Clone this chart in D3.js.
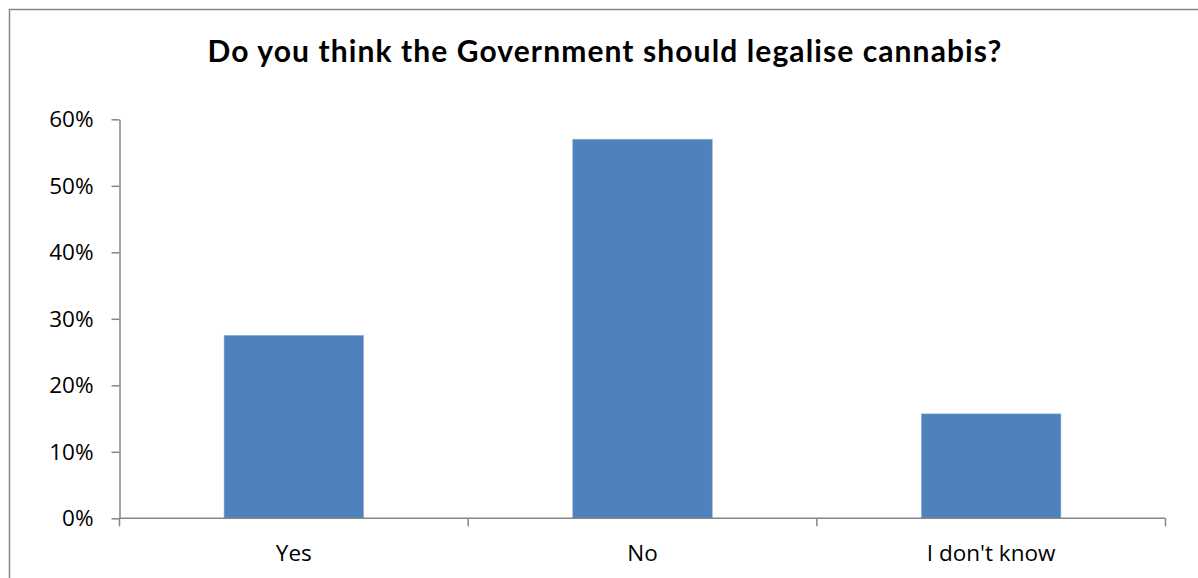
<!DOCTYPE html>
<html>
<head>
<meta charset="utf-8">
<script src="https://cdn.jsdelivr.net/npm/d3@7"></script>
<style>
  html, body { margin: 0; padding: 0; background: #fff; }
  svg { display: block; }
</style>
</head>
<body>
<svg id="chart" width="1198" height="578"></svg>
<script>
// Survey answers and their shares (percent)
const categories = ["Yes", "No", "I don't know"];
const shares = [27.5, 57.0, 15.7];
const yTicks = [0, 10, 20, 30, 40, 50, 60];
const title = "Do you think the Government should legalise cannabis?";

const svg = d3.select("#chart");
const W = 1198, H = 578;

// Outer chart frame (runs off the right and bottom edges)
svg.append("rect")
  .attr("x", 9.5).attr("y", 9.5)
  .attr("width", W + 10).attr("height", H + 10)
  .attr("fill", "#fff")
  .attr("stroke", "#878787")
  .attr("stroke-width", 1.5);

const plot = { left: 119.5, right: 1165.5, top: 119.3, bottom: 518.3 };

const x = d3.scaleBand()
  .domain(categories)
  .range([plot.left, plot.right])
  .paddingInner(0.6)
  .paddingOuter(0.3);

const y = d3.scaleLinear()
  .domain([0, 60])
  .range([plot.bottom, plot.top]);

// Bars
svg.append("g").selectAll("rect")
  .data(categories)
  .join("rect")
  .attr("x", d => x(d))
  .attr("width", x.bandwidth())
  .attr("y", (d, i) => y(shares[i]))
  .attr("height", (d, i) => y(0) - y(shares[i]))
  .attr("fill", "#4F81BD")
  .attr("stroke", "#8AABD6")
  .attr("stroke-width", 0.6);

const axisColor = "#868686";
const labelFont = "'Open Sans', 'DejaVu Sans', sans-serif";
const labelSize = "22.5px";

// Y axis
const yAxis = svg.append("g")
  .attr("transform", `translate(${plot.left},0)`)
  .call(d3.axisLeft(y).tickValues(yTicks).tickFormat(d => d + "%").tickSize(8).tickSizeOuter(0).tickPadding(18));
yAxis.attr("font-family", null).attr("font-size", null);
yAxis.select(".domain").attr("stroke", axisColor).attr("stroke-width", 1.5);
yAxis.selectAll(".tick line").attr("stroke", axisColor).attr("stroke-width", 1.5);
yAxis.selectAll(".tick text")
  .attr("fill", "#000")
  .style("font-family", labelFont)
  .style("font-size", labelSize);

// X axis: ticks sit on the category boundaries
const boundaries = d3.range(categories.length + 1).map(i => plot.left + i * x.step());
const xg = svg.append("g");
xg.append("line")
  .attr("x1", plot.left).attr("x2", plot.right)
  .attr("y1", plot.bottom).attr("y2", plot.bottom)
  .attr("stroke", axisColor).attr("stroke-width", 1.5);
xg.selectAll("line.tick")
  .data(boundaries)
  .join("line")
  .attr("class", "tick")
  .attr("x1", d => d).attr("x2", d => d)
  .attr("y1", plot.bottom).attr("y2", plot.bottom + 8)
  .attr("stroke", axisColor).attr("stroke-width", 1.5);
xg.selectAll("text")
  .data(categories)
  .join("text")
  .attr("x", d => x(d) + x.bandwidth() / 2)
  .attr("y", 561)
  .attr("text-anchor", "middle")
  .attr("fill", "#000")
  .style("font-family", labelFont)
  .style("font-size", labelSize)
  .text(d => d);

// Title
svg.append("text")
  .attr("x", 605)
  .attr("y", 62)
  .attr("text-anchor", "middle")
  .attr("fill", "#000")
  .style("font-family", "Lato, 'Open Sans', sans-serif")
  .style("font-weight", "bold")
  .style("font-size", "30px")
  .style("letter-spacing", "1.1px")
  .text(title);
</script>
</body>
</html>
